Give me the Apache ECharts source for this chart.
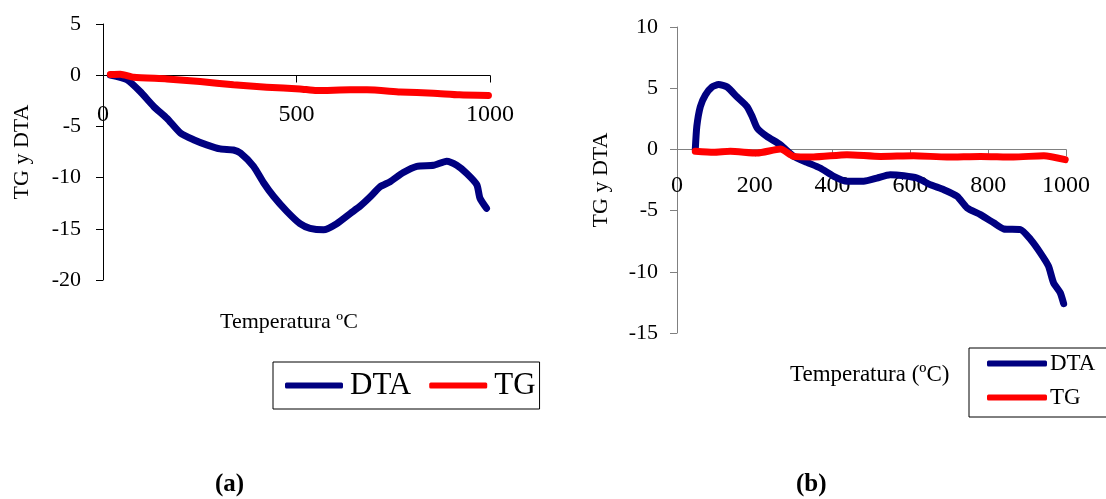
<!DOCTYPE html>
<html>
<head>
<meta charset="utf-8">
<script src="https://cdn.jsdelivr.net/npm/echarts@6/dist/echarts.min.js"></script>
<style>
  html, body { margin: 0; padding: 0; background: #fff; }
  #main { width: 1106px; height: 499px; }
</style>
</head>
<body>
<div id="main"></div>
<script>
var dom = document.getElementById("main");
var chart = echarts.init(dom);
var serif = "'Liberation Serif', 'Times New Roman', serif";

// (a) temperatura (ºC) / valor
var tempDtaA = [19, 62, 96, 131, 165, 200, 234, 268, 303, 337, 355, 389, 415, 441, 475, 509, 535, 570, 604, 639, 664, 690, 716, 742, 776, 811, 854, 888, 914, 940, 966, 974, 991];
var dtaA = [0, -0.45, -1.6, -3.05, -4.2, -5.65, -6.3, -6.8, -7.2, -7.3, -7.6, -8.9, -10.5, -11.85, -13.3, -14.5, -14.95, -15.1, -14.5, -13.5, -12.8, -11.9, -10.9, -10.4, -9.5, -8.9, -8.8, -8.4, -8.8, -9.6, -10.7, -12.0, -13.0];
var tempTgA = [19, 45, 79, 165, 251, 337, 423, 509, 552, 639, 682, 768, 854, 921, 996];
var tgA = [0.07, 0.1, -0.2, -0.36, -0.62, -0.94, -1.17, -1.34, -1.5, -1.43, -1.43, -1.63, -1.76, -1.92, -1.98];

// (b)
var tempDtaB = [47, 51, 60, 73, 90, 107, 129, 154, 180, 193, 206, 231, 266, 300, 334, 368, 403, 437, 480, 514, 548, 583, 617, 651, 686, 720, 746, 780, 814, 840, 883, 909, 934, 955, 968, 985, 994];
var dtaB = [0, 1.9, 3.5, 4.45, 5.1, 5.3, 5.1, 4.3, 3.5, 2.7, 1.75, 1.06, 0.38, -0.57, -1.06, -1.52, -2.2, -2.6, -2.6, -2.34, -2.07, -2.15, -2.34, -2.88, -3.29, -3.83, -4.78, -5.33, -6.0, -6.5, -6.55, -7.36, -8.45, -9.54, -10.9, -11.7, -12.6];
var tempTgB = [47, 94, 137, 206, 266, 300, 351, 437, 523, 608, 694, 780, 865, 943, 998];
var tgB = [-0.16, -0.24, -0.16, -0.3, 0.03, -0.57, -0.62, -0.43, -0.57, -0.52, -0.62, -0.57, -0.62, -0.52, -0.84];

function pairs(xs, ys) {
    return xs.map(function (x, i) { return [x, ys[i]]; });
}

function lineSeries(name, color, xi, data) {
    return {
        name: name,
        type: 'line',
        xAxisIndex: xi,
        yAxisIndex: xi,
        data: data,
        symbol: 'none',
        smooth: 0.2,
        color: color,
        lineStyle: { color: color, width: 7, cap: 'round', join: 'round' }
    };
}

// eje x cruza en y = 0: se desplaza hacia dentro de la rejilla
function xAx(grid, interval, axisColor, offset, margin) {
    return {
        type: 'value', gridIndex: grid, min: 0, max: 1000, interval: interval,
        offset: offset,
        axisLine: { onZero: false, lineStyle: { color: axisColor, width: 1 } },
        axisTick: { show: true, inside: false, length: 7, lineStyle: { color: axisColor } },
        axisLabel: {
            color: '#000', fontFamily: serif, fontSize: 24, margin: margin,
            formatter: function (v) { return String(v); }
        },
        splitLine: { show: false }
    };
}

function yAx(grid, min, max, axisColor, gap, margin) {
    return {
        type: 'value', gridIndex: grid, min: min, max: max, interval: 5,
        name: 'TG y DTA', nameLocation: 'middle', nameRotate: 90, nameGap: gap,
        nameTextStyle: { color: '#000', fontFamily: serif, fontSize: 22 },
        axisLine: { show: true, lineStyle: { color: axisColor, width: 1 } },
        axisTick: { show: true, length: 7, lineStyle: { color: axisColor } },
        axisLabel: { color: '#000', fontFamily: serif, fontSize: 22, margin: margin },
        splitLine: { show: false }
    };
}

var option = {
    animation: false,
    backgroundColor: '#fff',
    grid: [
        { left: 103, top: 24, width: 387, height: 256 },
        { left: 677, top: 27, width: 389, height: 306 }
    ],
    xAxis: [ xAx(0, 500, '#000', -204.5, 27), xAx(1, 200, '#808080', -183.6, 24) ],
    yAxis: [ yAx(0, -20, 5, '#000', 70, 22), yAx(1, -15, 10, '#808080', 65, 19) ],
    legend: [
        {
            left: 273, top: 362, orient: 'horizontal',
            data: ['DTA', 'TG'],
            icon: 'roundRect', itemWidth: 58, itemHeight: 6, itemGap: 18,
            borderColor: '#000', borderWidth: 1, borderRadius: 0,
            padding: [8, 4, 8, 12],
            textStyle: { fontFamily: serif, fontSize: 31, color: '#000', padding: [0, 0, 0, 2] },
            selectedMode: false
        },
        {
            left: 969, top: 348, orient: 'vertical',
            data: ['DTA', 'TG'],
            icon: 'roundRect', itemWidth: 60, itemHeight: 6, itemGap: 11,
            borderColor: '#000', borderWidth: 1, borderRadius: 0,
            padding: [4, 30, 8, 18],
            textStyle: { fontFamily: serif, fontSize: 23, color: '#000', padding: [0, 0, 0, -2] },
            selectedMode: false
        }
    ],
    graphic: [
        { type: 'text', left: 220, top: 311, style: { text: 'Temperatura ºC', font: '22px ' + serif, fill: '#000' } },
        { type: 'text', left: 790, top: 363, style: { text: 'Temperatura (ºC)', font: '23px ' + serif, fill: '#000' } },
        { type: 'text', left: 215, top: 472, style: { text: '(a)', font: 'bold 25px ' + serif, fill: '#000' } },
        { type: 'text', left: 796, top: 472, style: { text: '(b)', font: 'bold 25px ' + serif, fill: '#000' } }
    ],
    series: [
        lineSeries('DTA', '#000080', 0, pairs(tempDtaA, dtaA)),
        lineSeries('TG', '#ff0000', 0, pairs(tempTgA, tgA)),
        lineSeries('DTA', '#000080', 1, pairs(tempDtaB, dtaB)),
        lineSeries('TG', '#ff0000', 1, pairs(tempTgB, tgB))
    ]
};

chart.setOption(option);
</script>
</body>
</html>
